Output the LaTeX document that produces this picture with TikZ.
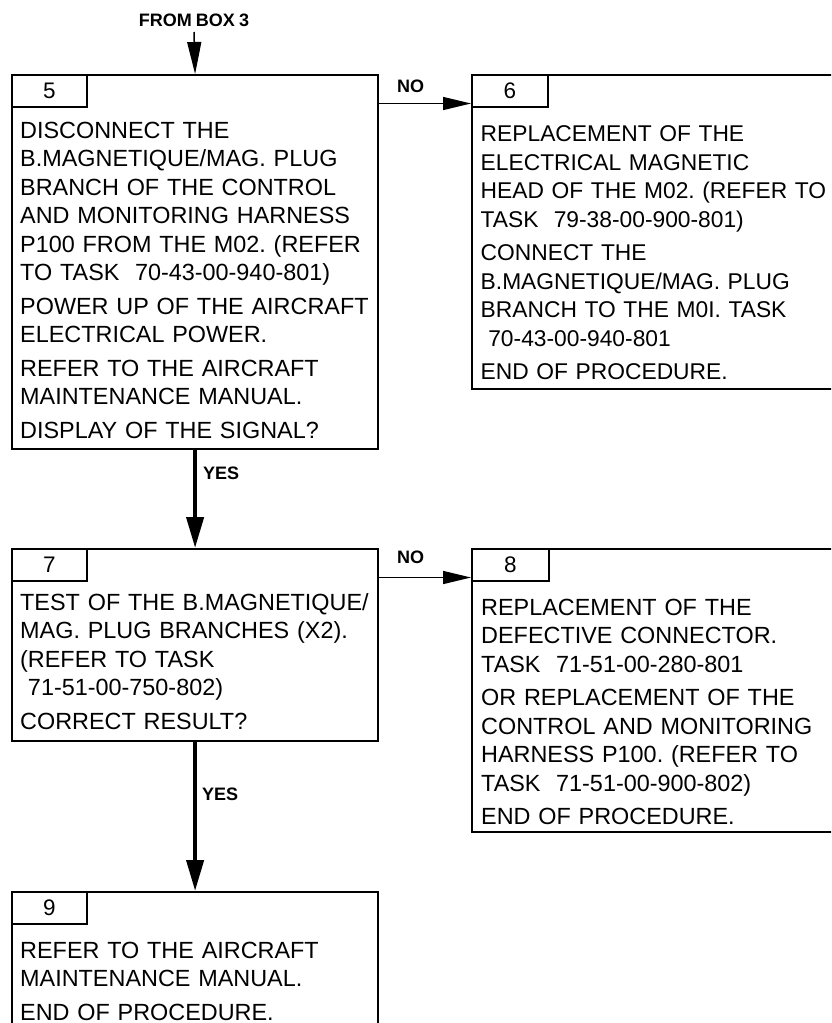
\documentclass[tikz,border=0pt]{standalone}
\usepackage{fontspec}
\setmainfont{Liberation Sans}[WordSpace=0.82]
\usetikzlibrary{arrows.meta}
\frenchspacing
\begin{document}
\begin{tikzpicture}[x=1pt,y=-1pt,
  box/.style={draw, line width=2.2pt, rectangle, inner sep=0pt, anchor=north west},
  tab/.style={draw, line width=2pt, rectangle, inner sep=0pt, anchor=north west, minimum height=32pt, font=\fontsize{22.5}{26}\selectfont},
  body/.style={inner sep=0pt, anchor=base west, text width=400pt, align=left, font=\fontsize{23.4}{28.5}\selectfont\frenchspacing},
  bodyr/.style={body, font=\fontsize{22.8}{28.5}\selectfont\frenchspacing},
  lbl/.style={font=\bfseries\fontsize{18}{21}\selectfont, inner sep=0pt},
  thinarr/.style={line width=1.5pt, -{Triangle[length=28pt,width=13pt]}},
  toparr/.style={line width=1.5pt, -{Triangle[length=32pt,width=14pt]}},
  thickarr/.style={line width=4.2pt, -{Triangle[length=31pt,width=17pt]}},
]
\useasboundingbox (0,0) rectangle (831,1023);
\clip (0,0) rectangle (831,1023);

% boxes
\node[box, minimum width=366pt, minimum height=374pt] (b5) at (11,74) {};
\node[tab, minimum width=75pt] (t5) at (11,74) {5};
\node[body] (x5) at (20,138) {DISCONNECT THE\\B.MAGNETIQUE/MAG. PLUG\\BRANCH OF THE CONTROL\\AND MONITORING HARNESS\\P100 FROM THE M02. (REFER\\TO TASK\ \ 70-43-00-940-801)\\[5pt]POWER UP OF THE AIRCRAFT\\ELECTRICAL POWER.\\[5pt]REFER TO THE AIRCRAFT\\MAINTENANCE MANUAL.\\[5pt]DISPLAY OF THE SIGNAL?};

\node[box, minimum width=390pt, minimum height=314pt] (b6) at (471,74) {};
\node[tab, minimum width=76pt] (t6) at (471,74) {6};
\node[bodyr] (x6) at (480.5,141.5) {REPLACEMENT OF THE\\ELECTRICAL MAGNETIC\\HEAD OF THE M02. (REFER TO\\TASK\ \ 79-38-00-900-801)\\[5pt]CONNECT THE\\B.MAGNETIQUE/MAG. PLUG\\BRANCH TO THE M0I. TASK\\\ 70-43-00-940-801\\[5pt]END OF PROCEDURE.};

\node[box, minimum width=366pt, minimum height=192pt] (b7) at (11,548) {};
\node[tab, minimum width=75pt] (t7) at (11,548) {7};
\node[body] (x7) at (20,610) {TEST OF THE B.MAGNETIQUE/\\MAG. PLUG BRANCHES (X2).\\(REFER TO TASK\\\ 71-51-00-750-802)\\[5pt]CORRECT RESULT?};

\node[box, minimum width=390pt, minimum height=283pt] (b8) at (471,548) {};
\node[tab, minimum width=77pt] (t8) at (471,548) {8};
\node[body] (x8) at (481,615) {REPLACEMENT OF THE\\DEFECTIVE CONNECTOR.\\TASK\ \ 71-51-00-280-801\\[5pt]OR REPLACEMENT OF THE\\CONTROL AND MONITORING\\HARNESS P100. (REFER TO\\TASK\ \ 71-51-00-900-802)\\[5pt]END OF PROCEDURE.};

\node[box, minimum width=366pt, minimum height=170pt] (b9) at (11,891) {};
\node[tab, minimum width=75pt] (t9) at (11,891) {9};
\node[body] (x9) at (20,958) {REFER TO THE AIRCRAFT\\MAINTENANCE MANUAL.\\[5pt]END OF PROCEDURE.};

% connectors
\node[lbl, anchor=base] (from) at (194,26) {FROM BOX 3};
\coordinate (src) at (194,32);
\draw[toparr] (src) -- (b5.north);

\draw[thinarr] ([yshift=-29.5pt]b5.north east) -- ([yshift=-29.5pt]b6.north west);
\node[lbl, anchor=base west] (no1) at (397,92) {NO};

\draw[thickarr] (b5.south) -- (b7.north);
\node[lbl, anchor=base west] (yes1) at (203,479) {YES};

\draw[thinarr] ([yshift=-29.5pt]b7.north east) -- ([yshift=-29.5pt]b8.north west);
\node[lbl, anchor=base west] (no2) at (397,563.5) {NO};

\draw[thickarr] (b7.south) -- (b9.north);
\node[lbl, anchor=base west] (yes2) at (202,800) {YES};
\end{tikzpicture}
\end{document}
